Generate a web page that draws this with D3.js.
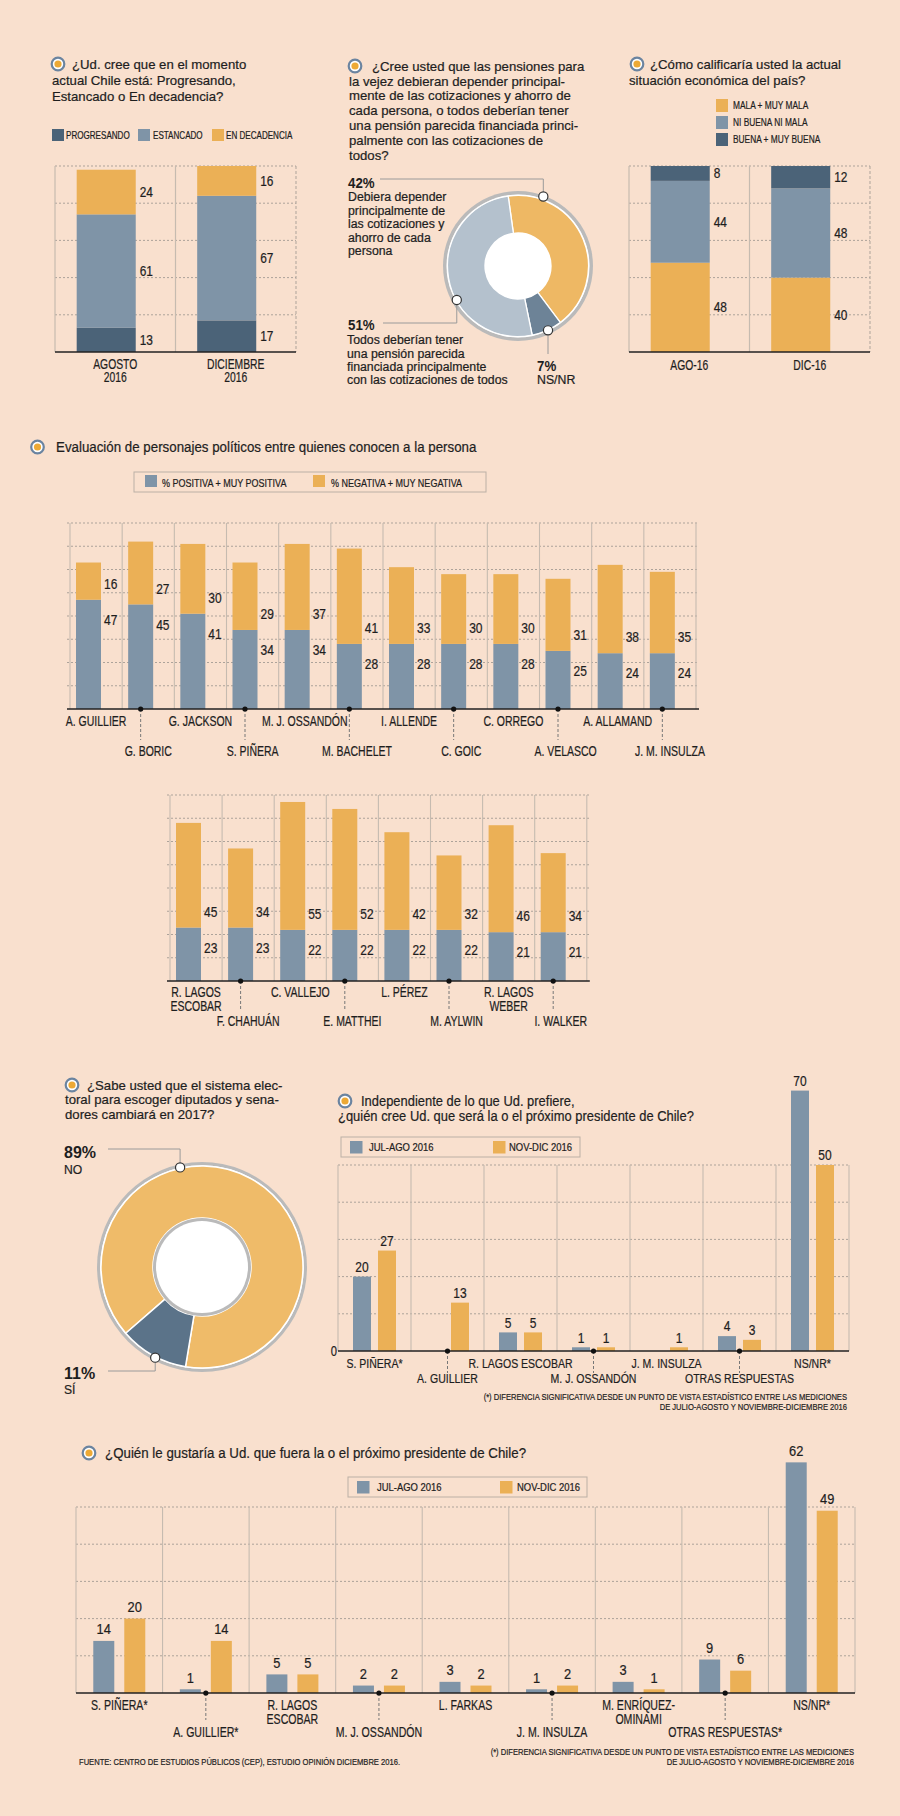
<!DOCTYPE html>
<html><head><meta charset="utf-8">
<script src="https://cdn.jsdelivr.net/npm/d3@7"></script>
<style>html,body{margin:0;padding:0;background:#f9e0ce;} svg{display:block;}</style>
</head><body>
<svg id="c" width="900" height="1816"></svg>
<script>
// ---------------- DATA ----------------
const progCategories = ["AGOSTO\n2016", "DICIEMBRE\n2016"];
const progSeries = ["PROGRESANDO", "ESTANCADO", "EN DECADENCIA"];
const progresando = [13, 17];
const estancado = [61, 67];
const enDecadencia = [24, 16];
const progTicks = [0, 20, 40, 60, 80, 100];

const pensionValues = [42, 7, 51];
const pensionPct = ["42%", "7%", "51%"];
const pensionTexts = [
  ["Debiera depender", "principalmente de", "las cotizaciones y", "ahorro de cada", "persona"],
  ["NS/NR"],
  ["Todos deberían tener", "una pensión parecida", "financiada principalmente", "con las cotizaciones de todos"]
];

const econCategories = ["AGO-16", "DIC-16"];
const econSeries = ["MALA + MUY MALA", "NI BUENA NI MALA", "BUENA + MUY BUENA"];
const malaMuyMala = [48, 40];
const niBuenaNiMala = [44, 48];
const buenaMuyBuena = [8, 12];

const evalSeries = ["% POSITIVA + MUY POSITIVA", "% NEGATIVA + MUY NEGATIVA"];
const evalNames1 = ["A. GUILLIER", "G. BORIC", "G. JACKSON", "S. PIÑERA", "M. J. OSSANDÓN", "M. BACHELET",
  "I. ALLENDE", "C. GOIC", "C. ORREGO", "A. VELASCO", "A. ALLAMAND", "J. M. INSULZA"];
const evalPositive1 = [47, 45, 41, 34, 34, 28, 28, 28, 28, 25, 24, 24];
const evalNegative1 = [16, 27, 30, 29, 37, 41, 33, 30, 30, 31, 38, 35];
const evalNames2 = ["R. LAGOS\nESCOBAR", "F. CHAHUÁN", "C. VALLEJO", "E. MATTHEI", "L. PÉREZ", "M. AYLWIN",
  "R. LAGOS\nWEBER", "I. WALKER"];
const evalPositive2 = [23, 23, 22, 22, 22, 22, 21, 21];
const evalNegative2 = [45, 34, 55, 52, 42, 32, 46, 34];
const evalTicks = [0, 10, 20, 30, 40, 50, 60, 70, 80];

const sabeLabels = ["NO", "SÍ"];
const sabePct = ["89%", "11%"];
const sabeValues = [89, 11];

const periodSeries = ["JUL-AGO 2016", "NOV-DIC 2016"];
const indepCategories = ["S. PIÑERA*", "A. GUILLIER", "R. LAGOS ESCOBAR", "M. J. OSSANDÓN", "J. M. INSULZA",
  "OTRAS RESPUESTAS", "NS/NR*"];
const indepJulAgo = [20, null, 5, 1, null, 4, 70];
const indepNovDic = [27, 13, 5, 1, 1, 3, 50];

const gustCategories = ["S. PIÑERA*", "A. GUILLIER*", "R. LAGOS\nESCOBAR", "M. J. OSSANDÓN", "L. FARKAS",
  "J. M. INSULZA", "M. ENRÍQUEZ-\nOMINAMI", "OTRAS RESPUESTAS*", "NS/NR*"];
const gustJulAgo = [14, 1, 5, 2, 3, 1, 3, 9, 62];
const gustNovDic = [20, 14, 5, 2, 2, 2, 1, 6, 49];
const presTicks = [0, 10, 20, 30, 40, 50];

const footnoteLines = ["(*) DIFERENCIA SIGNIFICATIVA DESDE UN PUNTO DE VISTA ESTADÍSTICO ENTRE LAS MEDICIONES",
  "DE JULIO-AGOSTO Y NOVIEMBRE-DICIEMBRE 2016"];
const sourceText = "FUENTE: CENTRO DE ESTUDIOS PÚBLICOS (CEP), ESTUDIO OPINIÓN DICIEMBRE 2016.";

// ---------------- STYLE ----------------
const FONT = '"Liberation Sans", Arial, sans-serif';
const C = {
  orange: "#ebb056", blue: "#7f94a7", dark: "#4b6378", text: "#1e1e1e",
  grid: "#ada39a", sep: "#c6bbb0", axis: "#222",
  pOrange: "#eeb864", pLight: "#b4c1cd", pDark: "#6d8397",
  sOrange: "#efbb69", sDark: "#5b7389", ring: "#bababa"
};
const svg = d3.select("#c");
svg.append("rect").attr("width", 900).attr("height", 1816).attr("fill", "#f9e0ce");

function txt(g, x, yc, s, o = {}) {
  const size = o.size || 12, sx = o.sx || 1;
  const fill = o.fill || C.text;
  return g.append("text")
    .attr("transform", `translate(${x},${yc + size * 0.35}) scale(${sx},1)`)
    .attr("font-family", FONT).attr("font-size", size)
    .attr("font-weight", o.bold ? "bold" : "normal")
    .attr("fill", fill)
    .attr("stroke", o.bold ? "none" : fill).attr("stroke-width", 0.22)
    .attr("text-anchor", o.anchor || "start")
    .text(s);
}
function icon(x, y) {
  svg.append("circle").attr("cx", x).attr("cy", y).attr("r", 6.3).attr("fill", "#fff")
    .attr("stroke", "#6b84a0").attr("stroke-width", 2.2);
  svg.append("circle").attr("cx", x).attr("cy", y).attr("r", 3.6).attr("fill", "#eda935");
}
function title(ix, iy, firstX, restX, lines, lh, size, sx) {
  icon(ix, iy);
  lines.forEach((l, i) => txt(svg, i === 0 ? firstX : restX, iy + i * lh, l, { size, sx }));
}
function hline(g, x1, x2, y, dashed, color, w) {
  g.append("line").attr("x1", x1).attr("x2", x2).attr("y1", y).attr("y2", y)
    .attr("stroke", color).attr("stroke-width", w || 1)
    .attr("stroke-dasharray", dashed ? "2,2" : null);
}
function vline(g, x, y1, y2, dashed, color, w) {
  g.append("line").attr("x1", x).attr("x2", x).attr("y1", y1).attr("y2", y2)
    .attr("stroke", color).attr("stroke-width", w || 1)
    .attr("stroke-dasharray", dashed ? "3,2" : null);
}
function marker(x, y) {
  svg.append("circle").attr("cx", x).attr("cy", y).attr("r", 4.6).attr("fill", "#fff")
    .attr("stroke", "#333").attr("stroke-width", 1.2);
}

// ---------------- STACKED TWO-BAR PANELS ----------------
function stackedPanel(cats, keys, arrays, colors, left, right, top, bottom, catRowY) {
  const g = svg.append("g");
  const y = d3.scaleLinear().domain([0, 100]).range([bottom, top]);
  const x = d3.scaleBand().domain(cats).range([left, right]);
  const bw = x.bandwidth();
  progTicks.slice(1).forEach(t => hline(g, left, right, y(t), true, C.grid));
  vline(g, left, top, bottom, false, C.sep, 1.2);
  cats.slice(1).forEach(c => vline(g, x(c), top, bottom, false, C.sep, 1.2));
  vline(g, right, top, bottom, true, C.grid);
  const rows = cats.map((c, i) => { const r = { cat: c }; keys.forEach((k, j) => r[k] = arrays[j][i]); return r; });
  const stack = d3.stack().keys(keys)(rows);
  stack.forEach((layer, j) => {
    layer.forEach(d => {
      const bx = x(d.data.cat) + bw * 0.18, w = bw * 0.49;
      g.append("rect").attr("x", bx).attr("width", w).attr("y", y(d[1])).attr("height", y(d[0]) - y(d[1]))
        .attr("fill", colors[j]);
      txt(g, bx + w + 4, (y(d[0]) + y(d[1])) / 2, String(d[1] - d[0]), { size: 14, sx: 0.85 });
    });
  });
  hline(g, left, right, bottom, false, C.axis, 1.5);
  cats.forEach(c => c.split("\n").forEach((l, k) =>
    txt(g, x(c) + bw / 2, catRowY + k * 13, l, { size: 14, sx: 0.74, anchor: "middle" })));
}

// Panel 1
title(58, 64, 72, 52, ["¿Ud. cree que en el momento", "actual Chile está: Progresando,", "Estancado o En decadencia?"], 16, 13.6, 0.97);
[[52, 66], [138, 153], [212, 226]].forEach((p, i) => {
  svg.append("rect").attr("x", p[0]).attr("y", 129).attr("width", 12).attr("height", 12)
    .attr("fill", [C.dark, C.blue, C.orange][i]);
  txt(svg, p[1], 135, progSeries[i], { size: 10.5, sx: 0.77 });
});
stackedPanel(progCategories, progSeries, [progresando, estancado, enDecadencia], [C.dark, C.blue, C.orange],
  55, 296, 166, 352, 364);

// Panel 3
title(637, 64, 650, 629, ["¿Cómo calificaría usted la actual", "situación económica del país?"], 16, 13.6, 0.97);
[C.orange, C.blue, C.dark].forEach((col, i) => {
  const yy = [99, 116, 133][i];
  svg.append("rect").attr("x", 716).attr("y", yy).attr("width", 12).attr("height", 13).attr("fill", col);
  txt(svg, 733, yy + 6.5, econSeries[i], { size: 11, sx: 0.76 });
});
stackedPanel(econCategories, econSeries, [malaMuyMala, niBuenaNiMala, buenaMuyBuena], [C.orange, C.blue, C.dark],
  629, 870, 166, 352, 365);

// ---------------- PENSION DONUT ----------------
title(355, 66, 372, 349, ["¿Cree usted que las pensiones para", "la vejez debieran depender principal-",
  "mente de las cotizaciones y ahorro de", "cada persona, o todos deberían tener",
  "una pensión parecida financiada princi-", "palmente con las cotizaciones de", "todos?"], 14.85, 13.6, 0.97);
(function () {
  const cx = 518, cy = 266;
  svg.append("circle").attr("cx", cx).attr("cy", cy).attr("r", 75).attr("fill", C.ring);
  svg.append("circle").attr("cx", cx).attr("cy", cy).attr("r", 71.5).attr("fill", "#fff");
  const pie = d3.pie().sort(null).startAngle(-8 * Math.PI / 180).endAngle(352 * Math.PI / 180)(pensionValues);
  const arc = d3.arc().innerRadius(33).outerRadius(70.5);
  const cols = [C.pOrange, C.pDark, C.pLight];
  svg.append("g").attr("transform", `translate(${cx},${cy})`).selectAll("path").data(pie).join("path")
    .attr("d", arc).attr("fill", (d, i) => cols[i]).attr("stroke", "#fff").attr("stroke-width", 1.3);
  svg.append("circle").attr("cx", cx).attr("cy", cy).attr("r", 33).attr("fill", "#fff");
  const mAng = [20, 155, 241], mR = [74, 71, 70];
  const mp = mAng.map((a, i) => [cx + mR[i] * Math.sin(a * Math.PI / 180), cy - mR[i] * Math.cos(a * Math.PI / 180)]);
  const lc = "#9a9a9a";
  svg.append("path").attr("d", `M380,179H${mp[0][0]}V${mp[0][1]}`).attr("fill", "none").attr("stroke", lc);
  svg.append("path").attr("d", `M383,323H${mp[2][0]}V${mp[2][1]}`).attr("fill", "none").attr("stroke", lc);
  svg.append("path").attr("d", `M${mp[1][0]},${mp[1][1]}V354`).attr("fill", "none").attr("stroke", lc);
  mp.forEach(p => marker(p[0], p[1]));
  txt(svg, 348, 183, pensionPct[0], { size: 14, bold: true, sx: 0.95 });
  pensionTexts[0].forEach((l, i) => txt(svg, 348, 197 + i * 13.4, l, { size: 12.3 }));
  txt(svg, 348, 325, pensionPct[2], { size: 14, bold: true, sx: 0.95 });
  pensionTexts[2].forEach((l, i) => txt(svg, 347, 340 + i * 13.2, l, { size: 12.3 }));
  txt(svg, 537, 366, pensionPct[1], { size: 14, bold: true, sx: 0.95 });
  txt(svg, 537, 380, pensionTexts[1][0], { size: 12.3 });
})();

// ---------------- EVALUATION CHARTS ----------------
title(37.5, 447, 56, 56, ["Evaluación de personajes políticos entre quienes conocen a la persona"], 16, 15.5, 0.86);
svg.append("rect").attr("x", 134).attr("y", 472).attr("width", 352).attr("height", 20)
  .attr("fill", "none").attr("stroke", "#bcb0a5");
[[145, 162, C.blue], [313, 331, C.orange]].forEach((p, i) => {
  svg.append("rect").attr("x", p[0]).attr("y", 475).attr("width", 12).attr("height", 12).attr("fill", p[2]);
  txt(svg, p[1], 483, evalSeries[i], { size: 11, sx: 0.82 });
});
function evalChart(names, pos, neg, left, colW, top, bottom, rowEven, rowOdd, dashEnd) {
  const g = svg.append("g");
  const n = names.length, right = left + n * colW;
  const y = d3.scaleLinear().domain([0, 80]).range([bottom, top]);
  const x = d3.scaleBand().domain(d3.range(n)).range([left, right]);
  evalTicks.slice(1).forEach(t => hline(g, left - 3, right + 3, y(t), true, C.grid));
  d3.range(n + 1).forEach(i => vline(g, left + i * colW, top, bottom, false, C.sep, 1.1));
  names.forEach((nm, i) => {
    const bx = x(i) + 6, w = 25;
    g.append("rect").attr("x", bx).attr("width", w).attr("y", y(pos[i])).attr("height", y(0) - y(pos[i])).attr("fill", C.blue);
    g.append("rect").attr("x", bx).attr("width", w).attr("y", y(pos[i] + neg[i])).attr("height", y(pos[i]) - y(pos[i] + neg[i])).attr("fill", C.orange);
    const b = y(pos[i]);
    txt(g, bx + w + 3, b - 16, String(neg[i]), { size: 15, sx: 0.8 });
    txt(g, bx + w + 3, b + 20, String(pos[i]), { size: 15, sx: 0.8 });
  });
  hline(g, left - 3, right + 3, bottom, false, C.axis, 1.5);
  names.forEach((nm, i) => {
    const cxm = x(i) + colW / 2;
    const odd = i % 2 === 1;
    if (odd) {
      const bc = x(i) + 6 + 12.5;
      vline(g, bc, bottom, dashEnd, true, "#777");
      g.append("circle").attr("cx", bc).attr("cy", bottom).attr("r", 2.6).attr("fill", "#111");
    }
    nm.split("\n").forEach((l, k) => txt(g, cxm, (odd ? rowOdd : rowEven) + k * 14, l, { size: 14, sx: 0.75, anchor: "middle" }));
  });
}
evalChart(evalNames1, evalPositive1, evalNegative1, 70, 626 / 12, 523, 709, 721, 751, 740);
evalChart(evalNames2, evalPositive2, evalNegative2, 170, 52.1, 795, 981, 992, 1021, 1010);

// ---------------- SABE DONUT ----------------
title(72, 1085, 87, 65, ["¿Sabe usted que el sistema elec-", "toral para escoger diputados y sena-", "dores cambiará en 2017?"], 14.5, 13.6, 0.97);
(function () {
  const cx = 202, cy = 1267;
  svg.append("circle").attr("cx", cx).attr("cy", cy).attr("r", 105).attr("fill", C.ring);
  svg.append("circle").attr("cx", cx).attr("cy", cy).attr("r", 101.8).attr("fill", "#fff");
  const pie = d3.pie().sort(null).startAngle(-131 * Math.PI / 180).endAngle(229 * Math.PI / 180)(sabeValues);
  const arc = d3.arc().innerRadius(49).outerRadius(101);
  const cols = [C.sOrange, C.sDark];
  svg.append("g").attr("transform", `translate(${cx},${cy})`).selectAll("path").data(pie).join("path")
    .attr("d", arc).attr("fill", (d, i) => cols[i]).attr("stroke", "#fff").attr("stroke-width", 1.5);
  svg.append("circle").attr("cx", cx).attr("cy", cy).attr("r", 49).attr("fill", C.ring);
  svg.append("circle").attr("cx", cx).attr("cy", cy).attr("r", 46).attr("fill", "#fff");
  const mAng = [-12.4, 207.3], R = 102;
  const mp = mAng.map(a => [cx + R * Math.sin(a * Math.PI / 180), cy - R * Math.cos(a * Math.PI / 180)]);
  const lc = "#9a9a9a";
  svg.append("path").attr("d", `M108,1149H${mp[0][0]}V${mp[0][1]}`).attr("fill", "none").attr("stroke", lc);
  svg.append("path").attr("d", `M108,1371H${mp[1][0]}V${mp[1][1]}`).attr("fill", "none").attr("stroke", lc);
  mp.forEach(p => marker(p[0], p[1]));
  txt(svg, 64, 1152, sabePct[0], { size: 16, bold: true });
  txt(svg, 64, 1169, sabeLabels[0], { size: 13.5, sx: 0.9 });
  txt(svg, 64, 1373, sabePct[1], { size: 16, bold: true });
  txt(svg, 64, 1389, sabeLabels[1], { size: 13.5, sx: 0.9 });
})();

// ---------------- GROUPED BAR CHARTS ----------------
function groupChart(o) {
  const g = svg.append("g");
  const n = o.cats.length;
  const y = d3.scaleLinear().domain([0, 50]).range([o.bottom, o.top]);
  const x = d3.scaleBand().domain(d3.range(n)).range([o.left, o.right]);
  const colW = x.bandwidth();
  presTicks.slice(1).forEach(t => hline(g, o.left, o.right, y(t), true, C.grid));
  d3.range(n + 1).forEach(i => vline(g, o.left + i * colW, o.top, o.bottom, false, C.sep, 1.1));
  const groupW = o.barW * 2 + o.gap;
  [o.a, o.b].forEach((arr, s) => {
    arr.forEach((v, i) => {
      if (v == null) return;
      const bx = x(i) + (colW - groupW) / 2 + s * (o.barW + o.gap);
      g.append("rect").attr("x", bx).attr("width", o.barW).attr("y", y(v)).attr("height", y(0) - y(v))
        .attr("fill", s === 0 ? C.blue : C.orange);
      txt(g, bx + o.barW / 2, y(v) - o.labOff, String(v), { size: o.valSize, sx: o.valSx, anchor: "middle" });
    });
  });
  hline(g, o.left, o.right, o.bottom, false, C.axis, 1.5);
  if (o.zero) txt(g, o.left - 1, o.bottom, "0", { size: 14, sx: 0.8, anchor: "end" });
  o.cats.forEach((nm, i) => {
    const cxm = x(i) + colW / 2, odd = i % 2 === 1;
    if (odd) {
      vline(g, cxm, o.bottom, o.dashEnd, true, "#777");
      g.append("circle").attr("cx", cxm).attr("cy", o.bottom).attr("r", 2.6).attr("fill", "#111");
    }
    nm.split("\n").forEach((l, k) => txt(g, cxm, (odd ? o.rowOdd : o.rowEven) + k * 13.5, l,
      { size: o.nameSize, sx: o.nameSx, anchor: "middle" }));
  });
}
function legendBox(x, y, w, sq1, t1, sq2, t2) {
  svg.append("rect").attr("x", x).attr("y", y).attr("width", w).attr("height", 20)
    .attr("fill", "none").attr("stroke", "#bcb0a5");
  [[sq1, t1, C.blue], [sq2, t2, C.orange]].forEach((p, i) => {
    svg.append("rect").attr("x", p[0]).attr("y", y + 4).attr("width", 12.5).attr("height", 12.5).attr("fill", p[2]);
    txt(svg, p[1], y + 10, periodSeries[i], { size: 11, sx: 0.86 });
  });
}

// Independiente
title(345, 1101, 361, 338, ["Independiente de lo que Ud. prefiere,", "¿quién cree Ud. que será la o el próximo presidente de Chile?"], 15, 15.4, 0.84);
legendBox(341, 1137, 239, 350, 369, 493, 509);
groupChart({ cats: indepCategories, a: indepJulAgo, b: indepNovDic, left: 338, right: 849, top: 1165, bottom: 1351,
  barW: 18, gap: 7, labOff: 10, valSize: 15, valSx: 0.8, nameSize: 13.5, nameSx: 0.78,
  rowEven: 1363, rowOdd: 1378, dashEnd: 1373, zero: true });
footnoteLines.forEach((l, i) => txt(svg, 847, 1397 + i * 9.5, l, { size: 9.5, sx: 0.8, anchor: "end" }));

// Quién le gustaría
title(89, 1453, 105, 105, ["¿Quién le gustaría a Ud. que fuera la o el próximo presidente de Chile?"], 16, 15.5, 0.86);
legendBox(348, 1477, 239, 357, 377, 500, 517);
groupChart({ cats: gustCategories, a: gustJulAgo, b: gustNovDic, left: 76, right: 855, top: 1507, bottom: 1693,
  barW: 21, gap: 10, labOff: 12, valSize: 15.5, valSx: 0.83, nameSize: 14.5, nameSx: 0.73,
  rowEven: 1705, rowOdd: 1732, dashEnd: 1720, zero: false });
footnoteLines.forEach((l, i) => txt(svg, 854, 1752 + i * 9.5, l, { size: 9.5, sx: 0.8, anchor: "end" }));
txt(svg, 79, 1762, sourceText, { size: 9.5, sx: 0.8 });
</script>
</body></html>
